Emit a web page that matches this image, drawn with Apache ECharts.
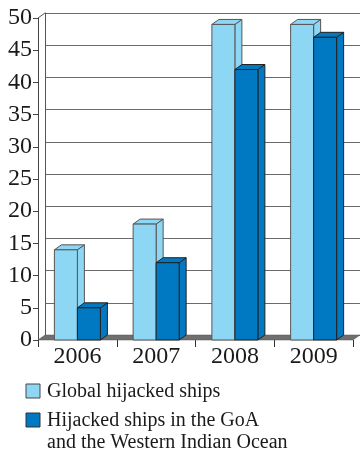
<!DOCTYPE html>
<html><head><meta charset="utf-8">
<style>html,body{margin:0;padding:0;background:#fff}#c{width:360px;height:455px}</style>
<script src="https://cdn.jsdelivr.net/npm/echarts@6/dist/echarts.min.js"></script>
</head><body><div id="c"></div>
<script>
var categories = ['2006', '2007', '2008', '2009'];
var globalShips = [14, 18, 49, 49];
var goaShips = [5, 12, 42, 47];
var seriesNames = ['Global hijacked ships', 'Hijacked ships in the GoA\nand the Western Indian Ocean'];
var yTicks = [0, 5, 10, 15, 20, 25, 30, 35, 40, 45, 50];

var lightC = '#8dd7f5', darkC = '#0079c2';
var DX = 7, DY = -5;
var FONT = '"Liberation Serif","DejaVu Serif",serif';

var chart = echarts.init(document.getElementById('c'), null, {renderer: 'canvas'});

function bar3d(color, stroke, offsetIdx, data) {
  return {
    type: 'custom',
    xAxisIndex: 0, yAxisIndex: 0,
    data: data.map(function (v, i) { return [i, v]; }),
    z: 5 + offsetIdx,
    renderItem: function (params, api) {
      var i = api.value(0), v = api.value(1);
      var top = api.coord([i, v]);
      var base = api.coord([i, 0]);
      var bw = 23;
      var x0 = offsetIdx === 0 ? top[0] - bw : top[0];
      var x1 = x0 + bw;
      var yt = top[1], yb = base[1];
      var st = {fill: color, stroke: stroke, lineWidth: 1};
      return {
        type: 'group',
        children: [
          {type: 'polygon', shape: {points: [[x1, yb], [x1 + DX, yb + DY], [x1 + DX, yt + DY], [x1, yt]]}, style: st},
          {type: 'polygon', shape: {points: [[x0, yt], [x0 + DX, yt + DY], [x1 + DX, yt + DY], [x1, yt]]}, style: st},
          {type: 'rect', shape: {x: x0, y: yt, width: bw, height: yb - yt}, style: st}
        ]
      };
    }
  };
}

var floorSeries = {
  type: 'custom', xAxisIndex: 0, yAxisIndex: 0, z: 3, silent: true,
  data: [[0, 0]],
  renderItem: function (params, api) {
    var cs = params.coordSys;
    var yb = cs.y + cs.height, xl = cs.x, xr = cs.x + cs.width;
    return {type: 'polygon', shape: {points: [[xl, yb], [xl + DX, yb + DY], [xr + DX, yb + DY], [xr, yb]]},
      style: {fill: '#6f6f6f', stroke: '#555', lineWidth: 0.5}};
  }
};

var option = {
  animation: false,
  grid: [
    {left: 38, right: 7, top: 18, bottom: 115},
    {left: 38 + DX, right: 0, top: 18 + DY, bottom: 115 - DY}
  ],
  xAxis: [
    {type: 'category', gridIndex: 0, data: categories, boundaryGap: true,
      axisLine: {show: false},
      axisTick: {show: true, length: 7, lineStyle: {color: '#333'}},
      axisLabel: {color: '#1a1a1a', fontSize: 24, fontFamily: FONT, margin: 5}},
    {type: 'category', gridIndex: 1, data: categories, show: false}
  ],
  yAxis: [
    {type: 'value', gridIndex: 0, min: 0, max: 50, interval: 5,
      axisLine: {show: true, lineStyle: {color: '#444', width: 1}},
      axisTick: {show: true, length: 5, lineStyle: {color: '#444'}},
      splitLine: {show: false},
      axisLabel: {color: '#1a1a1a', fontSize: 24, fontFamily: FONT, margin: 6,
        formatter: function (v) { return yTicks.indexOf(v) >= 0 ? String(v) : ''; }}},
    {type: 'value', gridIndex: 1, min: 0, max: 50, interval: 5,
      axisLine: {show: true, lineStyle: {color: '#555', width: 1}},
      axisTick: {show: false}, axisLabel: {show: false},
      splitLine: {show: true, lineStyle: {color: '#6a6a6a', width: 1}}}
  ],
  series: [
    floorSeries,
    bar3d(lightC, '#555', 0, globalShips),
    bar3d(darkC, '#222', 1, goaShips)
  ],
  graphic: [
    {type: 'line', shape: {x1: 38, y1: 18, x2: 38 + DX, y2: 18 + DY}, style: {stroke: '#555', lineWidth: 1}},
    {type: 'rect', shape: {x: 26, y: 384, width: 14, height: 14}, style: {fill: lightC, stroke: '#444', lineWidth: 1}},
    {type: 'text', x: 47, y: 392, style: {text: seriesNames[0], fill: '#1a1a1a', font: '20px ' + FONT, verticalAlign: 'middle'}},
    {type: 'rect', shape: {x: 26, y: 413, width: 14, height: 14}, style: {fill: darkC, stroke: '#333', lineWidth: 1}},
    {type: 'text', x: 47, y: 410, style: {text: seriesNames[1], fill: '#1a1a1a', font: '20px ' + FONT, lineHeight: 22, verticalAlign: 'top'}}
  ]
};
chart.setOption(option);
</script></body></html>
